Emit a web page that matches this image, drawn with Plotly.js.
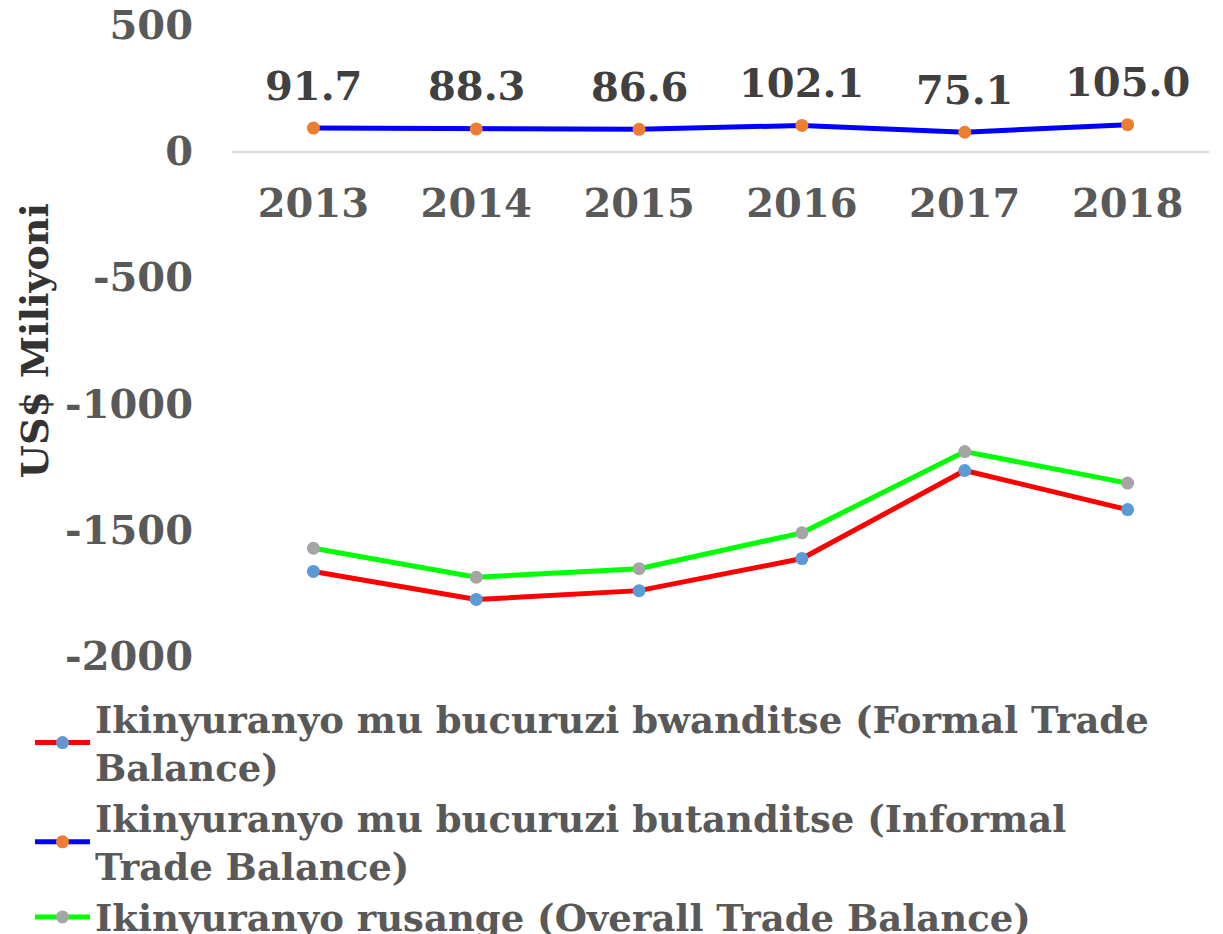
<!DOCTYPE html>
<html>
<head>
<meta charset="utf-8">
<script src="https://cdn.plot.ly/plotly-3.0.1.min.js"></script>
<style>html,body{margin:0;padding:0;background:#fff;}#chart{width:1223px;height:934px;}</style>
</head>
<body>
<div id="chart"></div>
<script>
const years = ["2013", "2014", "2015", "2016", "2017", "2018"];
const formalBalance = [-1665, -1776, -1741, -1614, -1265, -1420];
const informalBalance = [91.7, 88.3, 86.6, 102.1, 75.1, 105.0];
const overallBalance = [-1573, -1688, -1654, -1512, -1190, -1315];
const seriesNames = [
  "Ikinyuranyo mu bucuruzi bwanditse (Formal Trade<br>Balance)",
  "Ikinyuranyo mu bucuruzi butanditse (Informal<br>Trade Balance)",
  "Ikinyuranyo rusange (Overall Trade Balance)"
];
const yTicksUpper = [0, 500];
const yTicksLower = [-2000, -1500, -1000, -500];
const yTitle = "US$ Miliyoni";

const FONT = "DejaVu Serif";
const tickFont = {family: FONT, size: 40, color: "#595959", weight: "bold"};

const traces = [
  {x: years, y: formalBalance, name: seriesNames[0], type: "scatter", mode: "lines+markers",
   xaxis: "x", yaxis: "y2",
   line: {color: "#FF0000", width: 5}, marker: {color: "#5B9BD5", size: 13}},
  {x: years, y: informalBalance, name: seriesNames[1], type: "scatter", mode: "lines+markers",
   xaxis: "x", yaxis: "y",
   line: {color: "#0000FF", width: 5}, marker: {color: "#ED7D31", size: 13}},
  {x: years, y: overallBalance, name: seriesNames[2], type: "scatter", mode: "lines+markers",
   xaxis: "x", yaxis: "y2",
   line: {color: "#00FF00", width: 5}, marker: {color: "#A5A5A5", size: 13}}
];

// category axis: annotation x uses the category serial number
const annotations = years.map((yr, i) => ({
  x: i, y: informalBalance[i], xref: "x", yref: "y",
  text: informalBalance[i].toFixed(1), showarrow: false,
  yanchor: "middle", yshift: 43,
  font: {family: FONT, size: 40, color: "#404040", weight: "bold"}
}));
annotations.push({
  xref: "paper", yref: "paper", x: (34 - 231.5) / 978, y: 0.5,
  xanchor: "center", yanchor: "middle", textangle: -90, showarrow: false,
  text: yTitle, font: {family: FONT, size: 38, color: "#333333", weight: "bold"}
});

const yCommon = {
  showgrid: false, zeroline: false, showline: false,
  ticks: "outside", ticklen: 30, tickcolor: "rgba(0,0,0,0)",
  automargin: false, tickfont: tickFont
};

const layout = {
  width: 1223, height: 934,
  paper_bgcolor: "#fff", plot_bgcolor: "#fff",
  margin: {l: 231.5, r: 13.5, t: 25, b: 278, autoexpand: false},
  showlegend: true,
  font: {family: FONT, color: "#595959", weight: "bold"},
  xaxis: {
    type: "category", anchor: "y", range: [-0.5, 5.5],
    showline: true, linecolor: "#D9D9D9", linewidth: 2,
    showgrid: false, zeroline: false,
    ticks: "outside", ticklen: 16, tickcolor: "rgba(0,0,0,0)",
    automargin: false, tickfont: tickFont
  },
  yaxis: Object.assign({domain: [0.8, 1], range: [0, 500], tickvals: yTicksUpper,
    ticktext: yTicksUpper.map(String), anchor: "x"}, yCommon),
  yaxis2: Object.assign({domain: [0, 0.8], range: [-2000, 0], tickvals: yTicksLower,
    ticktext: yTicksLower.map(String), anchor: "x"}, yCommon),
  legend: {
    xref: "container", yref: "container", x: 30/1223, y: 1 - 688/934,
    xanchor: "left", yanchor: "top",
    font: {family: FONT, size: 37, color: "#595959", weight: "bold"},
    tracegroupgap: 0, itemwidth: 55, bgcolor: "rgba(0,0,0,0)"
  },
  annotations: annotations
};

Plotly.newPlot("chart", traces, layout, {displayModeBar: false, staticPlot: true});
</script>
</body>
</html>
